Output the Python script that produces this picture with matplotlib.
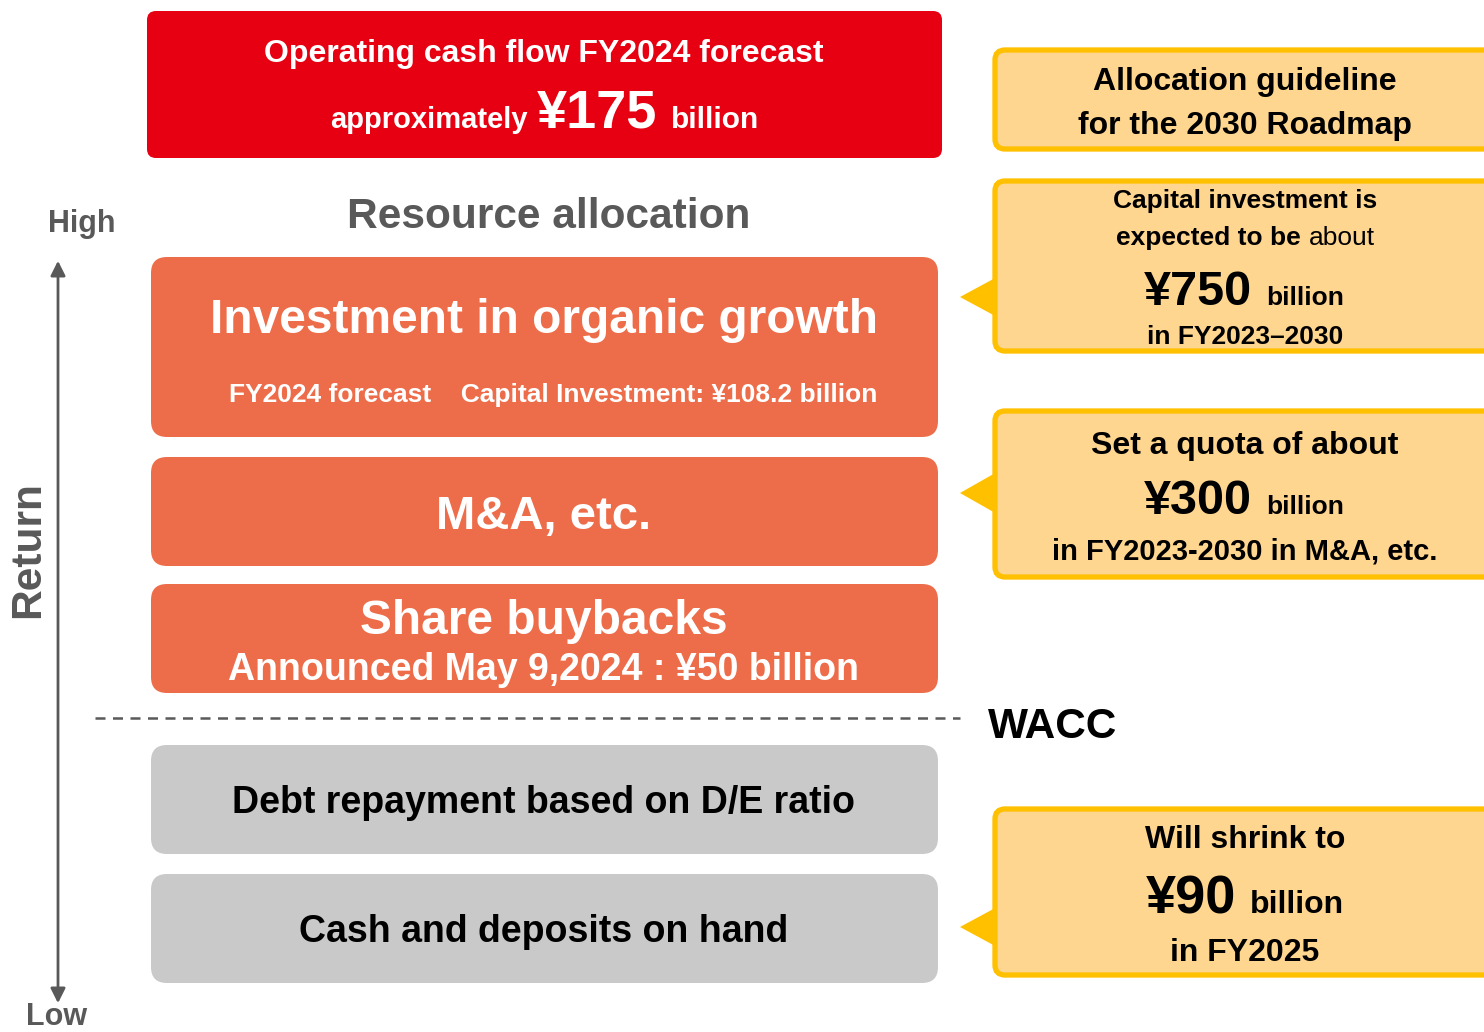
import matplotlib
matplotlib.use('Agg')
import matplotlib.pyplot as plt
from matplotlib.patches import FancyBboxPatch, Polygon

# --- content ---
ocf_title = 'Operating cash flow FY2024 forecast'
ocf_prefix = 'approximately'
ocf_amount = '¥175'
ocf_unit = 'billion'

section_title = 'Resource allocation'
axis_label = 'Return'
axis_high = 'High'
axis_low = 'Low'
threshold_label = 'WACC'

tier_titles = ['Investment in organic growth', 'M&A, etc.', 'Share buybacks',
               'Debt repayment based on D/E ratio', 'Cash and deposits on hand']
tier_notes = ['FY2024 forecast    Capital Investment: ¥108.2 billion', '',
              'Announced May 9,2024 : ¥50 billion', '', '']
tier_above_wacc = [True, True, True, False, False]

guide_title = ['Allocation guideline', 'for the 2030 Roadmap']
capex_lines = ['Capital investment is', 'expected to be', 'about', '¥750', 'billion', 'in FY2023–2030']
mna_lines = ['Set a quota of about', '¥300', 'billion', 'in FY2023-2030 in M&A, etc.']
cash_lines = ['Will shrink to', '¥90', 'billion', 'in FY2025']

RED = '#E60012'
ORANGE = '#ED6D4A'
GRAY_BOX = '#C9C9C9'
DARK = '#595959'
CALL_FILL = '#FFD68F'
CALL_EDGE = '#FFC000'

SANS = ['Liberation Sans', 'DejaVu Sans']

fig = plt.figure(figsize=(14.84, 10.32), dpi=100)
ax = fig.add_axes([0, 0, 1, 1])
ax.set_xlim(0, 1484)
ax.set_ylim(1032, 0)
ax.axis('off')


def rbox(x, y, w, h, color, r=10, ec='none', lw=0):
    p = FancyBboxPatch((x, y), w, h, boxstyle='round,pad=0,rounding_size=%d' % r,
                       fc=color, ec=ec, lw=lw)
    ax.add_patch(p)


def txt(x, y, s, size, color='black', ha='center', weight='bold', **kw):
    ax.text(x, y, s, fontsize=size, color=color, ha=ha, va='baseline',
            fontweight=weight, family=SANS, **kw)


# top red box
rbox(147, 11, 795, 147, RED, r=9)
txt(544, 62, ocf_title, 23, 'white')
txt(528, 128, ocf_prefix, 21, 'white', ha='right')
txt(537, 128, ocf_amount, 39, 'white', ha='left')
txt(671, 128, ocf_unit, 21.5, 'white', ha='left')

txt(549, 228, section_title, 30.5, DARK)

# vertical return axis
ax.annotate('', xy=(58, 258), xytext=(58, 1006),
            arrowprops=dict(arrowstyle='<|-|>', color=DARK, lw=2, mutation_scale=22))
txt(82, 232, axis_high, 22, DARK)
txt(57, 1025, axis_low, 22, DARK)
ax.text(28, 550, axis_label, fontsize=30.5, color=DARK, ha='center', va='center',
        rotation=90, fontweight='bold', family=SANS)

# tiers
tier_top = [257, 457, 584, 745, 874]
tier_h = [180, 109, 109, 109, 109]
for i, title in enumerate(tier_titles):
    col = ORANGE if tier_above_wacc[i] else GRAY_BOX
    tc = 'white' if tier_above_wacc[i] else 'black'
    rbox(151, tier_top[i], 787, tier_h[i], col, r=16)
    cx = 544
    if i == 0:
        txt(cx, 333, title, 34.5, tc)
        txt(553, 402, tier_notes[i], 19, tc)
    elif i == 2:
        txt(cx, 634, title, 34.5, tc)
        txt(cx, 680, tier_notes[i], 27, tc)
    elif i == 1:
        txt(cx, 529, title, 34, tc)
    else:
        txt(cx, tier_top[i] + 68, title, 27, tc)

# WACC line
ax.plot([95, 960], [718, 718], ls=(0, (4, 3)), color=DARK, lw=1.8)
txt(988, 738, threshold_label, 30.5, 'black', ha='left')


# callouts
def callout(y, h, tip=None):
    x = 995
    rbox(x, y, 520, h, CALL_FILL, r=10, ec=CALL_EDGE, lw=3.8)
    if tip is not None:
        ty, half = tip
        ax.add_patch(Polygon([[960, ty], [997, ty - half], [997, ty + half]],
                             closed=True, fc=CALL_EDGE, ec='none'))


callout(50, 99)
txt(1245, 90, guide_title[0], 23)
txt(1245, 134, guide_title[1], 23)

callout(181, 170, tip=(297, 20))
txt(1245, 208, capex_lines[0], 19)
txt(1301, 245, capex_lines[1], 19, ha='right')
txt(1309, 245, capex_lines[2], 19, ha='left', weight='normal')
txt(1252, 305, capex_lines[3], 35, ha='right')
txt(1266, 305, capex_lines[4], 19, ha='left')
txt(1245, 344, capex_lines[5], 19)

callout(411, 166, tip=(493, 21))
txt(1245, 454, mna_lines[0], 23)
txt(1252, 514, mna_lines[1], 35, ha='right')
txt(1266, 514, mna_lines[2], 19, ha='left')
txt(1245, 560, mna_lines[3], 21)

callout(809, 166, tip=(927, 20))
txt(1245, 848, cash_lines[0], 23)
txt(1236, 913, cash_lines[1], 39, ha='right')
txt(1250, 913, cash_lines[2], 23, ha='left')
txt(1245, 961, cash_lines[3], 23)

fig.savefig('out.png', dpi=100)
